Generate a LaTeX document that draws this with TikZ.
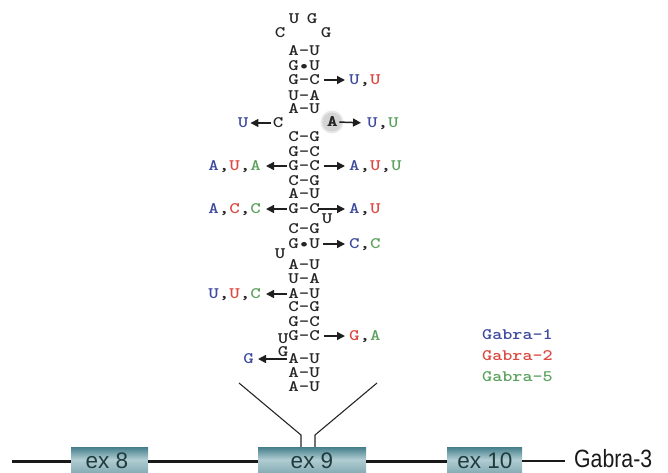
\documentclass[tikz,border=0pt]{standalone}
\usepackage{fontspec}
\usetikzlibrary{arrows.meta}
\setsansfont{Liberation Sans}
% Courier-like lettering: bold Latin Modern Mono, widened
\newcommand\stemfont{\ttfamily\bfseries\fontsize{16}{16}\selectfont}
\newcommand\widen[1]{\scalebox{1.25}[1]{#1}}
\definecolor{gOne}{HTML}{3D4A9E}
\definecolor{gTwo}{HTML}{DB4A42}
\definecolor{gFive}{HTML}{5CA25E}
\definecolor{exTop}{HTML}{457E8B}
\definecolor{exMid}{HTML}{B0CDD2}
\definecolor{exBot}{HTML}{88AEB7}
\definecolor{exText}{HTML}{1F3B3D}
\newcommand\cBlue[1]{\textcolor{gOne}{#1}}
\newcommand\cRed[1]{\textcolor{gTwo}{#1}}
\newcommand\cGreen[1]{\textcolor{gFive}{#1}}
\tikzset{
  bp/.style={font=\stemfont, inner sep=0pt,
    text height=9.8pt, text depth=0pt, text=black!85},
  labr/.style={bp, anchor=west},
  labl/.style={bp, anchor=east},
  arr/.style={-{Triangle[length=8pt,width=8pt]}, line width=1.5pt, black!88},
  exon/.style={rectangle, inner sep=0pt, minimum height=25pt,
    top color=exTop, bottom color=exBot, middle color=exMid},
  extext/.style={font=\sffamily\fontsize{22.5}{22.5}\selectfont, text=exText,
    inner sep=0pt, anchor=base},
  gene/.style={line width=3pt, black!90},
  funnel/.style={line width=1.1pt, black!85},
}
\begin{document}
\begin{tikzpicture}[x=1pt,y=-1pt]
\useasboundingbox (0,0) rectangle (668,472);

% hairpin loop
\node[bp] (lpa) at (294,19) {\widen{U}};
\node[bp] (lpb) at (312,19) {\widen{G}};
\node[bp] (lpc) at (280,33) {\widen{C}};
\node[bp] (lpd) at (326,33) {\widen{G}};

% upper stem
\node[bp] (r1) at (304,51) {\widen{A—U}};
\node[bp] (r2) at (304,66) {\widen{G•U}};
\node[bp] (r3) at (304,80) {\widen{G—C}};
\node[bp] (r4) at (304,96) {\widen{U—A}};
\node[bp] (r5) at (304,109) {\widen{A—U}};

% interior loop, with the circled A
\node[bp] (ic) at (278,123) {\widen{C}};
\node[bp, text=gOne] (icl) at (243,123) {\widen{U}};
\node[circle, fill=gray!18, minimum size=23pt, inner sep=0pt] at (332,122) {};
\node[circle, fill=gray!34, minimum size=19pt, inner sep=0pt] at (332,122) {};
\node[bp] at (332.5,122) {\widen{A}};
\node[bp] (ia) at (332,122) {\widen{A}};
\node[labr] (ial) at (367,123) {\widen{\cBlue{U},\cGreen{U}}};

% middle stem
\node[bp] (r6) at (304,137) {\widen{C—G}};
\node[bp] (r7) at (304,152) {\widen{G—C}};
\node[bp] (r8) at (304,166) {\widen{G—C}};
\node[bp] (r9) at (304,181) {\widen{C—G}};
\node[bp] (r10) at (304,194) {\widen{A—U}};
\node[bp] (r11) at (304,209) {\widen{G—C}};
\node[bp] (bu1) at (327,219) {\widen{U}};
\node[bp] (r12) at (304,229) {\widen{C—G}};
\node[bp] (r13) at (304,244) {\widen{G•U}};
\node[bp] (bu2) at (280,254) {\widen{U}};

% lower stem
\node[bp] (r14) at (304,265) {\widen{A—U}};
\node[bp] (r15) at (304,279) {\widen{U—A}};
\node[bp] (r16) at (304,294) {\widen{A—U}};
\node[bp] (r17) at (304,307) {\widen{C—G}};
\node[bp] (r18) at (304,322) {\widen{G—C}};
\node[bp] (r19) at (304,336) {\widen{G—C}};
\node[bp] (bu3) at (283,339) {\widen{U}};
\node[bp] (bu4) at (283,352) {\widen{G}};
\node[bp] (r20) at (304,359) {\widen{A—U}};
\node[bp] (r21) at (304,373) {\widen{A—U}};
\node[bp] (r22) at (304,387) {\widen{A—U}};

% substitutions
\node[labr] (s3) at (349,80) {\widen{\cBlue{U},\cRed{U}}};
\node[labl] (s8l) at (261,166) {\widen{\cBlue{A},\cRed{U},\cGreen{A}}};
\node[labr] (s8r) at (349,166) {\widen{\cBlue{A},\cRed{U},\cGreen{U}}};
\node[labl] (s11l) at (261,209) {\widen{\cBlue{A},\cRed{C},\cGreen{C}}};
\node[labr] (s11r) at (349,209) {\widen{\cBlue{A},\cRed{U}}};
\node[labr] (s13) at (349,244) {\widen{\cBlue{C},\cGreen{C}}};
\node[labl] (s16) at (261,294) {\widen{\cBlue{U},\cRed{U},\cGreen{C}}};
\node[labr] (s19) at (349,336) {\widen{\cRed{G},\cGreen{A}}};
\node[labl] (s20) at (254,359) {\widen{\cBlue{G}}};

\draw[arr, shorten <=2pt, shorten >=2pt] (ic.west) -- (icl.east);
\draw[arr, shorten <=2pt, shorten >=6pt] (ia.east) -- (ial.west);
\draw[arr, shorten <=4pt, shorten >=4pt] (r3.east) -- (s3.west);
\draw[arr, shorten <=1pt, shorten >=5pt] (r8.west) -- (s8l.east);
\draw[arr, shorten <=4pt, shorten >=4pt] (r8.east) -- (s8r.west);
\draw[arr, shorten <=1pt, shorten >=5pt] (r11.west) -- (s11l.east);
\draw[arr, shorten <=-2pt, shorten >=4pt] (r11.east) -- (s11r.west);
\draw[arr, shorten <=3pt, shorten >=4pt] (r13.east) -- (s13.west);
\draw[arr, shorten <=1pt, shorten >=5pt] (r16.west) -- (s16.east);
\draw[arr, shorten <=4pt, shorten >=4pt] (r19.east) -- (s19.west);
\draw[arr, shorten <=1pt, shorten >=4pt] (r20.west) -- (s20.east);

% legend
\node[labr, text=gOne] (k1) at (482,335) {\scalebox{1.2}[1]{Gabra-1}};
\node[labr, text=gTwo] (k2) at (482,356) {\scalebox{1.2}[1]{Gabra-2}};
\node[labr, text=gFive] (k3) at (482,377) {\scalebox{1.2}[1]{Gabra-5}};

% gene model
\node[exon, minimum width=77pt] (e8) at (109.5,459.5) {};
\node[exon, minimum width=108pt] (e9) at (312,459.5) {};
\node[exon, minimum width=75pt] (e10) at (484.5,459.5) {};
\node[extext] at (107,468.5) {ex 8};
\node[extext] at (312,468.5) {ex 9};
\node[extext] at (485,468.5) {ex 10};
\node[font=\sffamily\fontsize{25}{25}\selectfont, text=black!90, inner sep=0pt, anchor=base west] (g3) at (574,467) {\scalebox{0.85}[1]{Gabra-3}};

\coordinate (gs) at (12,461);
\draw[gene] (gs) -- (gs -| e8.west);
\draw[gene] (gs -| e8.east) -- (gs -| e9.west);
\draw[gene] (gs -| e9.east) -- (gs -| e10.west);
\draw[line width=1.5pt, black!90] (gs -| e10.east) -- ([xshift=-9pt]gs -| g3.west);

% exon 9 expanded into the hairpin
\coordinate (fl) at (239,383);
\coordinate (fr) at (377,383);
\coordinate (kl) at (301,435);
\coordinate (kr) at (315,435);
\draw[funnel] (fl) -- (kl) -- (kl |- e9.north);
\draw[funnel] (fr) -- (kr) -- (kr |- e9.north);
\end{tikzpicture}
\end{document}
